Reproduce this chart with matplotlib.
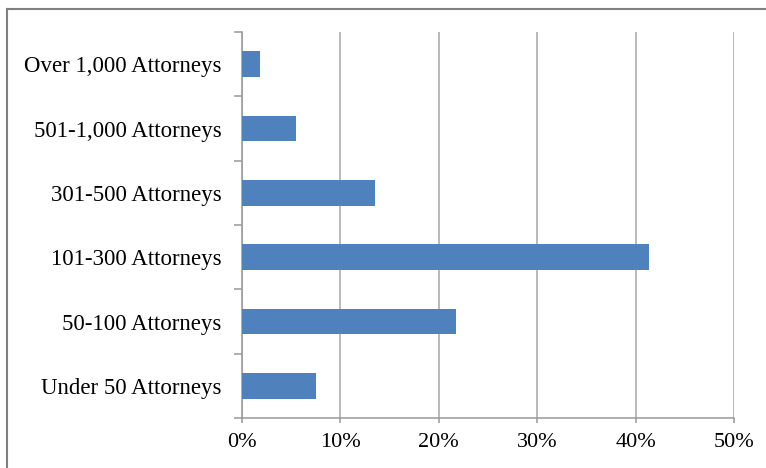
import numpy as np
import matplotlib.pyplot as plt
from matplotlib.lines import Line2D
from matplotlib.ticker import FuncFormatter

categories = ['Under 50 Attorneys', '50-100 Attorneys', '101-300 Attorneys',
              '301-500 Attorneys', '501-1,000 Attorneys', 'Over 1,000 Attorneys']
shares = [7.5, 21.7, 41.4, 13.5, 5.5, 1.85]
xticks = [0, 10, 20, 30, 40, 50]

plt.rcParams['font.family'] = ['Liberation Serif', 'DejaVu Serif']

fig = plt.figure(figsize=(7.66, 4.68), dpi=100)
ax = fig.add_axes([242 / 766, 1 - 418 / 468, (734 - 242) / 766, (418 - 32) / 468])

y = np.arange(len(categories))
ax.barh(y, shares, height=0.4, color='#4F81BD', zorder=3)

ax.set_xlim(0, 50)
ax.set_ylim(-0.5, len(categories) - 0.5)
ax.set_xticks(xticks)
ax.xaxis.set_major_formatter(FuncFormatter(lambda v, p: '%d%%' % v))
ax.grid(axis='x', color='#A6A6A6', linewidth=1.1, zorder=0)

ax.set_yticks(y)
ax.set_yticklabels(categories)
ax.set_yticks(np.arange(-0.5, len(categories)), minor=True)
ax.tick_params(axis='y', which='major', length=0, pad=14.5, labelsize=16.5)
ax.tick_params(axis='y', which='minor', length=5.5, color='#999999', width=1.1)
ax.tick_params(axis='x', length=3.5, color='#999999', width=1.1, labelsize=16, pad=7)

for s in ['top', 'right']:
    ax.spines[s].set_visible(False)
for s in ['left', 'bottom']:
    ax.spines[s].set_color('#999999')
    ax.spines[s].set_linewidth(1.1)

# outer frame (only top and left visible in the crop)
fig.add_artist(Line2D([7 / 766, 1], [1 - 8.5 / 468, 1 - 8.5 / 468], color='#808080', lw=1.5))
fig.add_artist(Line2D([7 / 766, 7 / 766], [0, 1 - 8.5 / 468], color='#808080', lw=1.5))

fig.savefig('out.png', dpi=100)
